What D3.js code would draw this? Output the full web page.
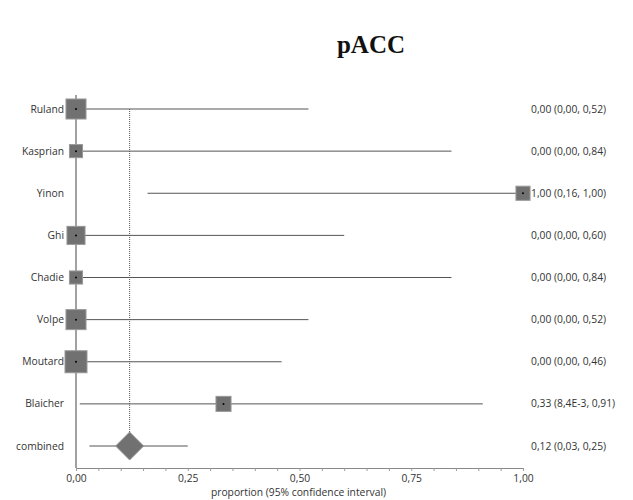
<!DOCTYPE html>
<html><head><meta charset="utf-8">
<script src="https://cdn.jsdelivr.net/npm/d3@7"></script>
<style>body{margin:0;background:#fff}svg{display:block}</style>
</head><body>
<script>
const studies = ["Ruland","Kasprian","Yinon","Ghi","Chadie","Volpe","Moutard","Blaicher","combined"];
const estimates = [0, 0, 1, 0, 0, 0, 0, 0.33, 0.12];
const lower = [0, 0, 0.16, 0, 0, 0, 0, 0.0084, 0.03];
const upper = [0.52, 0.84, 1, 0.60, 0.84, 0.52, 0.46, 0.91, 0.25];
const weights = [14.5, 6.2, 7.2, 11.8, 6.2, 14.5, 17.5, 8.2];
const rightLabels = ["0,00 (0,00, 0,52)","0,00 (0,00, 0,84)","1,00 (0,16, 1,00)","0,00 (0,00, 0,60)","0,00 (0,00, 0,84)","0,00 (0,00, 0,52)","0,00 (0,00, 0,46)","0,33 (8,4E-3, 0,91)","0,12 (0,03, 0,25)"];
const tickValues = [0, 0.25, 0.5, 0.75, 1];
const tickLabels = ["0,00","0,25","0,50","0,75","1,00"];

const W = 633, H = 500;
const svg = d3.select("body").append("svg").attr("width", W).attr("height", H);
const font = "'Open Sans', 'Noto Sans', sans-serif";
const fs = 10.3;

const x = d3.scaleLinear().domain([0, 1]).range([76, 523]);
const y = d3.scalePoint().domain(studies).range([109, 446]);
const size = d3.scaleSqrt().domain([0, d3.max(weights)]).range([0, 22]);

svg.append("text").attr("x", 371).attr("y", 53).attr("text-anchor", "middle")
  .attr("font-family", "'Liberation Serif', serif").attr("font-weight", "bold")
  .attr("font-size", 25).attr("fill", "#111").text("pACC");

// y axis line
svg.append("line").attr("x1", x(0)).attr("x2", x(0)).attr("y1", 95).attr("y2", 468)
  .attr("stroke", "#444").attr("stroke-width", 1);

// x axis
const axisG = svg.append("g").attr("transform", "translate(0,468)");
axisG.call(d3.axisBottom(x).tickValues(d3.range(0, 1.0001, 0.05)).tickSize(3).tickFormat(""))
  .call(g => g.select(".domain").attr("stroke", "#888"))
  .call(g => g.selectAll(".tick line").attr("stroke", "#999"));
axisG.append("g").call(d3.axisBottom(x).tickValues(tickValues).tickSize(0).tickPadding(7)
  .tickFormat((d, i) => tickLabels[i]))
  .call(g => g.select(".domain").remove())
  .call(g => g.selectAll("text").attr("font-family", font).attr("font-size", fs).attr("fill", "#333"));

svg.append("text").attr("x", x(0.5) - 1).attr("y", 496).attr("text-anchor", "middle")
  .attr("font-family", font).attr("font-size", fs).attr("fill", "#333")
  .text("proportion (95% confidence interval)");

// dotted line at combined estimate
const comb = studies.length - 1;
svg.append("line").attr("x1", x(estimates[comb])).attr("x2", x(estimates[comb]))
  .attr("y1", y(studies[0])).attr("y2", y(studies[comb]))
  .attr("stroke", "#555").attr("stroke-width", 1).attr("stroke-dasharray", "1,1");

// CI lines
svg.append("g").selectAll("line").data(studies).join("line")
  .attr("x1", (d, i) => x(lower[i])).attr("x2", (d, i) => x(upper[i]))
  .attr("y1", d => y(d)).attr("y2", d => y(d))
  .attr("stroke", "#555").attr("stroke-width", 1);

// squares
svg.append("g").selectAll("rect").data(weights).join("rect")
  .attr("x", (w, i) => x(estimates[i]) - size(w) / 2)
  .attr("y", (w, i) => y(studies[i]) - size(w) / 2)
  .attr("width", w => size(w)).attr("height", w => size(w))
  .attr("fill", "#717171").attr("stroke", "#999").attr("stroke-width", 1);

svg.append("g").selectAll("circle").data(weights).join("circle")
  .attr("cx", (w, i) => x(estimates[i])).attr("cy", (w, i) => y(studies[i]))
  .attr("r", 1).attr("fill", "#000");

// diamond
const cx = x(estimates[comb]), cy = y(studies[comb]);
svg.append("path")
  .attr("d", `M${cx - 14},${cy} L${cx},${cy - 14} L${cx + 14},${cy} L${cx},${cy + 14} Z`)
  .attr("fill", "#717171").attr("stroke", "#999").attr("stroke-width", 1);

// left labels
svg.append("g").selectAll("text").data(studies).join("text")
  .attr("x", 64).attr("y", d => y(d)).attr("dy", "0.35em").attr("text-anchor", "end")
  .attr("font-family", font).attr("font-size", fs).attr("fill", "#333").text(d => d);

// right labels
svg.append("g").selectAll("text").data(rightLabels).join("text")
  .attr("x", 531).attr("y", (d, i) => y(studies[i])).attr("dy", "0.35em")
  .attr("font-family", font).attr("font-size", fs).attr("fill", "#333").text(d => d);
</script>
</body></html>
